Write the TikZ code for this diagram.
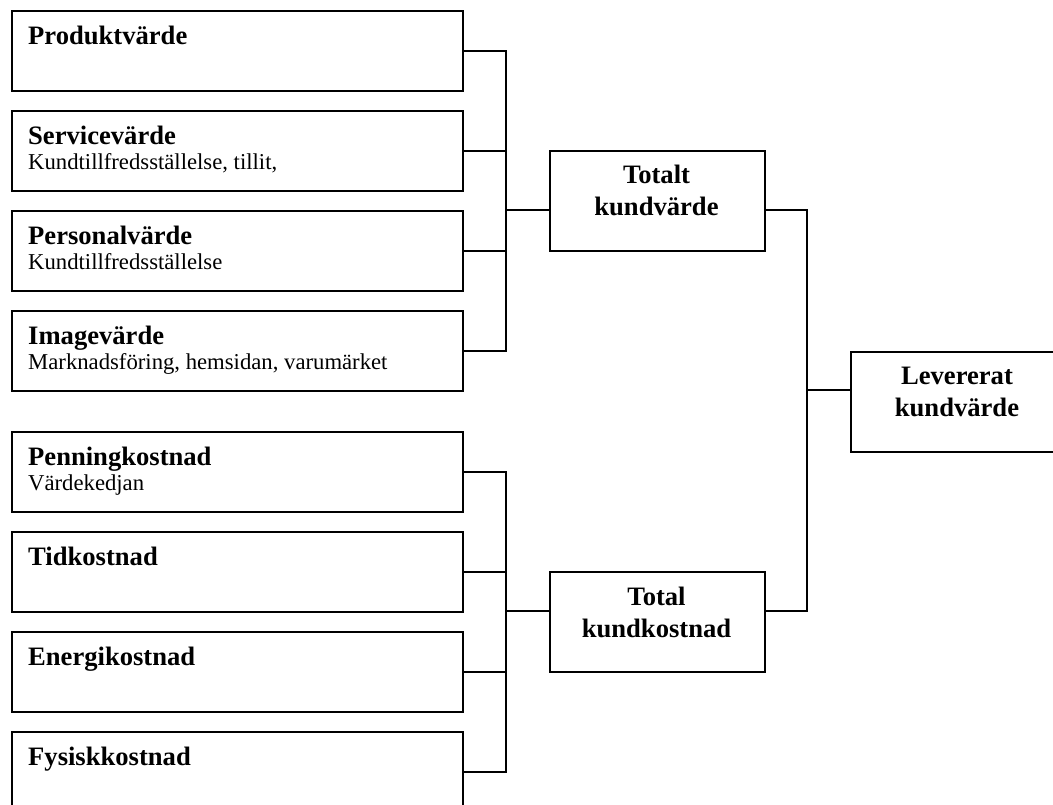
\documentclass[tikz,border=0pt]{standalone}
\usepackage{fontspec}
\setmainfont{Liberation Serif}
\begin{document}
\begin{tikzpicture}[x=1pt,y=-1pt,
  box/.style={draw=black,line width=2.2pt,rectangle,minimum width=451pt,minimum height=80pt,anchor=north west,inner sep=0pt},
  bigbox/.style={draw=black,line width=2.2pt,rectangle,minimum width=215pt,minimum height=100pt,anchor=north west,inner sep=0pt},
  ttl/.style={anchor=base west,inner sep=0pt,font=\fontsize{26.6}{32}\selectfont\bfseries},
  sub/.style={anchor=base west,inner sep=0pt,font=\fontsize{22.7}{27}\selectfont},
  ctr/.style={anchor=base,inner sep=0pt,align=center,font=\fontsize{26.6}{31.5}\selectfont\bfseries},
  conn/.style={draw=black,line width=2.2pt}]
\useasboundingbox (0,0) rectangle (1053,804);
\clip (0,0) rectangle (1053,804);
% left boxes
\node[box] (b1) at (11,10) {};
\node[box] (b2) at (11,110) {};
\node[box] (b3) at (11,210) {};
\node[box] (b4) at (11,310) {};
\node[box] (c1) at (11,431) {};
\node[box] (c2) at (11,531) {};
\node[box] (c3) at (11,631) {};
\node[box] (c4) at (11,731) {};
% texts
\node[ttl] (t1) at (28,44) {Produktvärde};
\node[ttl] (t2) at (28,144) {Servicevärde};
\node[sub] (s2) at (28,169) {Kundtillfredsställelse, tillit,};
\node[ttl] (t3) at (28,244) {Personalvärde};
\node[sub] (s3) at (28,269) {Kundtillfredsställelse};
\node[ttl] (t4) at (28,344) {Imagevärde};
\node[sub] (s4) at (28,369) {Marknadsföring, hemsidan, varumärket};
\node[ttl] (u1) at (28,465) {Penningkostnad};
\node[sub] (v1) at (28,490) {Värdekedjan};
\node[ttl] (u2) at (28,565) {Tidkostnad};
\node[ttl] (u3) at (28,665) {Energikostnad};
\node[ttl] (u4) at (28,765) {Fysiskkostnad};
% middle boxes
\node[bigbox] (tv) at (549,150) {};
\node[ctr] (tvt) at (656.5,215) {Totalt\\kundvärde};
\node[bigbox] (tk) at (549,571) {};
\node[ctr] (tkt) at (656.5,637) {Total\\kundkostnad};
\node[bigbox,minimum width=214pt] (lv) at (850,351) {};
\node[ctr] (lvt) at (957,416) {Levererat\\kundvärde};
% junction coordinates
\coordinate (j1) at (506,210);
\coordinate (j2) at (506,611);
\coordinate (r) at (807,390);
% upper group
\draw[conn] (b1.east) -- (b1.east -| j1) -- (b4.east -| j1) -- (b4.east);
\draw[conn] (b2.east) -- (b2.east -| j1);
\draw[conn] (b3.east) -- (b3.east -| j1);
\draw[conn] (j1) -- (tv.west |- j1);
% lower group
\draw[conn] (c1.east) -- (c1.east -| j2) -- (c4.east -| j2) -- (c4.east);
\draw[conn] (c2.east) -- (c2.east -| j2);
\draw[conn] (c3.east) -- (c3.east -| j2);
\draw[conn] (j2) -- (tk.west |- j2);
% right
\draw[conn] (tv.east |- j1) -| (r) |- (tk.east |- j2);
\draw[conn] (r) -- (lv.west |- r);
\end{tikzpicture}
\end{document}
